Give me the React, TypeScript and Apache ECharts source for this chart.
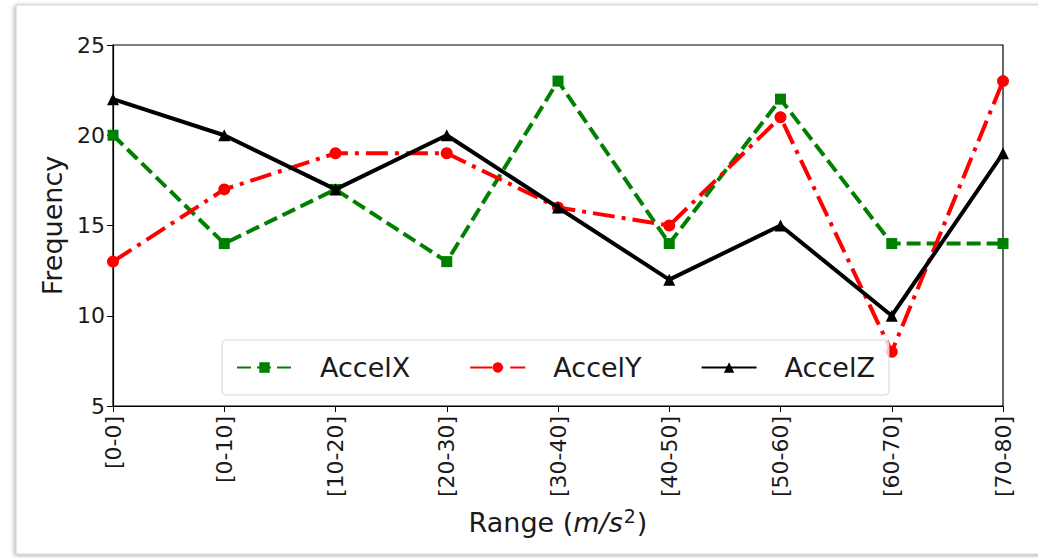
import React, { useEffect, useRef } from "react";
import * as echarts from "echarts";

const categories = ["[0-0]", "[0-10]", "[10-20]", "[20-30]", "[30-40]", "[40-50]", "[50-60]", "[60-70]", "[70-80]"];
const accelX = [20, 14, 17, 13, 23, 14, 22, 14, 14];
const accelY = [13, 17, 19, 19, 16, 15, 21, 8, 23];
const accelZ = [22, 20, 17, 20, 16, 12, 15, 10, 19];
const yTicks = { min: 5, max: 25, interval: 5 };

const FONT = "DejaVu Sans";
const TXT = "#1a1a1a";

export default function App() {
  const ref = useRef<HTMLDivElement>(null);
  useEffect(() => {
    const chart = echarts.init(ref.current!, null, { renderer: "svg" });
    chart.setOption({
      animation: false,
      backgroundColor: "#fff",
      graphic: [
        {
          type: "rect",
          z: -10,
          shape: { x: 16, y: 5, width: 1040, height: 549 },
          style: {
            fill: "#fff",
            stroke: "#cfcfcf",
            lineWidth: 1,
            shadowBlur: 4,
            shadowColor: "rgba(0,0,0,0.35)",
            shadowOffsetX: -1,
            shadowOffsetY: 1,
          },
        },
      ],
      grid: {
        left: 113,
        right: 35,
        top: 45,
        bottom: 152,
        show: true,
        borderColor: "#000",
        borderWidth: 1.2,
        backgroundColor: "transparent",
      },
      legend: {
        left: 222,
        top: 340,
        width: 670,
        height: 57,
        orient: "horizontal",
        itemWidth: 55,
        itemHeight: 13,
        itemGap: 59,
        padding: [14, 14, 14, 14],
        borderColor: "#d8d8d8",
        borderWidth: 1,
        borderRadius: 4,
        backgroundColor: "rgba(255,255,255,0.8)",
        textStyle: { fontFamily: FONT, fontSize: 27, color: TXT, padding: [0, 0, 0, 23] },
        data: ["AccelX", "AccelY", "AccelZ"],
      },
      xAxis: {
        type: "category",
        data: categories,
        boundaryGap: false,
        name: "{n|Range (}{i|m/s}{s|2}{n|)}",
        nameLocation: "middle",
        nameGap: 100,
        nameTextStyle: {
          fontFamily: FONT,
          fontSize: 27,
          color: TXT,
          rich: {
            n: { fontFamily: FONT, fontSize: 27, color: TXT, lineHeight: 32 },
            i: { fontFamily: FONT, fontSize: 27, color: TXT, fontStyle: "italic", lineHeight: 32 },
            s: { fontFamily: FONT, fontSize: 19, color: TXT, verticalAlign: "top", lineHeight: 32, padding: [0, 1, 12, 1] },
          },
        },
        axisLine: { lineStyle: { color: "#000", width: 1.2 } },
        axisTick: { alignWithLabel: true, length: 6, lineStyle: { color: "#000", width: 1 } },
        axisLabel: {
          rotate: 90,
          margin: 10,
          fontFamily: FONT,
          fontSize: 22,
          color: TXT,
        },
        splitLine: { show: false },
      },
      yAxis: {
        type: "value",
        min: yTicks.min,
        max: yTicks.max,
        interval: yTicks.interval,
        name: "Frequency",
        nameLocation: "middle",
        nameGap: 45,
        nameTextStyle: { fontFamily: FONT, fontSize: 27, color: TXT },
        axisLine: { show: true, lineStyle: { color: "#000", width: 1.2 } },
        axisTick: { show: true, length: 6, lineStyle: { color: "#000", width: 1 } },
        axisLabel: { margin: 8, fontFamily: FONT, fontSize: 22, color: TXT },
        splitLine: { show: false },
      },
      series: [
        {
          name: "AccelX",
          type: "line",
          data: accelX,
          symbol: "rect",
          symbolSize: 11,
          showAllSymbol: true,
          itemStyle: { color: "#008000" },
          lineStyle: { color: "#008000", width: 4, type: [14, 6] },
          z: 2,
        },
        {
          name: "AccelY",
          type: "line",
          data: accelY,
          symbol: "circle",
          symbolSize: 12,
          showAllSymbol: true,
          itemStyle: { color: "#ff0000" },
          lineStyle: { color: "#ff0000", width: 4, type: [22, 7, 4, 7] },
          z: 3,
        },
        {
          name: "AccelZ",
          type: "line",
          data: accelZ,
          symbol: "triangle",
          symbolSize: 12,
          showAllSymbol: true,
          itemStyle: { color: "#000" },
          lineStyle: { color: "#000", width: 4, type: "solid" },
          z: 4,
        },
      ],
    });
    return () => chart.dispose();
  }, []);
  return (
    <div
      ref={ref}
      style={{ position: "fixed", left: 0, top: 0, width: 1038, height: 558 }}
    />
  );
}
